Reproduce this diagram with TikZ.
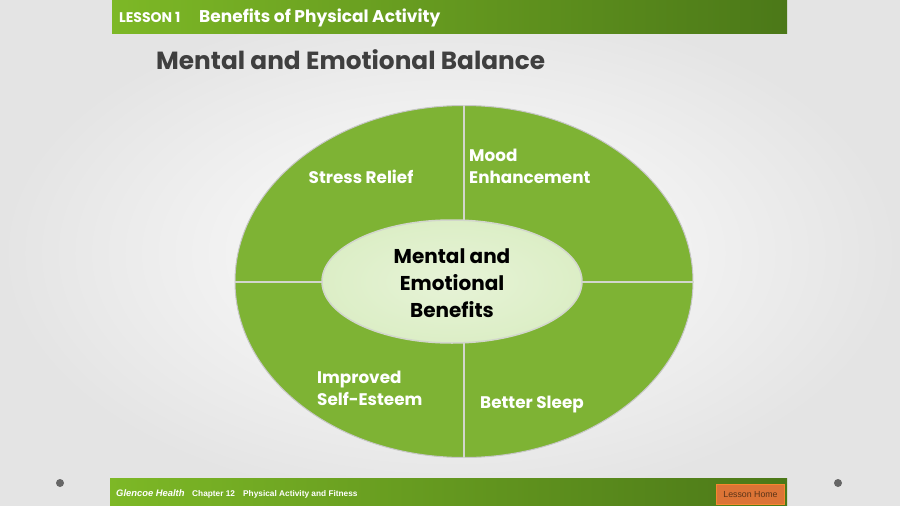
\documentclass[tikz,border=0pt]{standalone}
\usepackage{fontspec}
\setmainfont{Poppins}
\newfontfamily\footfont{Liberation Sans}
\usetikzlibrary{shapes.geometric, positioning}
\definecolor{bggrey}{HTML}{E4E4E4}
\definecolor{barleft}{HTML}{7DB826}
\definecolor{barright}{HTML}{4B7818}
\definecolor{leafgreen}{HTML}{7EB334}
\definecolor{palegreen}{HTML}{DCEEC6}
\definecolor{divline}{HTML}{D2D6CC}
\definecolor{titlegrey}{HTML}{3F3F3F}
\definecolor{btnorange}{HTML}{DC7436}
\definecolor{btnedge}{HTML}{F7872E}
\definecolor{btntext}{HTML}{5B3418}
\tikzset{
	bar/.style={shape=rectangle, inner sep=0pt, left color=barleft, right color=barright},
	quarter/.style={text=white, font=\bfseries\fontsize{16.8}{22}\selectfont, align=left, inner sep=0pt},
	foottext/.style={anchor=base west, text=white, inner sep=0pt, font=\footfont\bfseries\fontsize{8.3}{10}\selectfont},
	dot/.style={shape=circle, fill=black!60, inner sep=0pt, minimum size=8pt}
}

\begin{document}
\begin{tikzpicture}[x=1pt, y=-1pt]
	% Background, bars, ellipses and labels:
	\useasboundingbox (0,0) rectangle (900,506);
	\shade[inner color=white, outer color=bggrey] (0,0) rectangle (900,506);
	\node[bar, minimum width=675pt, minimum height=33pt] (header) at (449.5,16.5){};
	\node[anchor=base west, text=white, inner sep=0pt, font=\bfseries\fontsize{14}{16}\selectfont] (lesson) at (119,23){LESSON 1};
	\node[anchor=base west, text=white, inner sep=0pt, font=\bfseries\fontsize{17}{20}\selectfont] (topic) at (199,23){Benefits of Physical Activity};
	\node[anchor=base west, text=titlegrey, inner sep=0pt, font=\bfseries\fontsize{24.8}{30}\selectfont] (title) at (156,69){Mental and Emotional Balance};
	\node[shape=ellipse, draw=black!22, line width=1pt, fill=leafgreen, minimum width=458pt, minimum height=352pt, inner sep=0pt] (outer) at (464,281.5){};
	\draw[divline, line width=2pt] (outer.north) -- (outer.south);
	\draw[divline, line width=2pt] (outer.west) -- (outer.east);
	\node[shape=ellipse, draw=divline, line width=1.5pt, inner color=palegreen!70!white, outer color=palegreen, minimum width=260pt, minimum height=123pt, inner sep=0pt] (inner) at (452,281.5){};
	\node[align=center, inner sep=0pt, font=\bfseries\fontsize{20}{27}\selectfont] (centre) at (452,283){Mental and\\Emotional\\Benefits};
	\node[quarter, anchor=base] (stress) at (361,183){Stress Relief};
	\node[quarter, anchor=north west] (mood) at (469,149){Mood\\Enhancement};
	\node[quarter, anchor=north west] (esteem) at (317,371){Improved\\Self-Esteem};
	\node[quarter, anchor=base west] (sleep) at (480,408){Better Sleep};
	\node[bar, minimum width=677pt, minimum height=28pt] (footer) at (448.5,492){};
	\node[foottext, font=\footfont\bfseries\itshape\fontsize{9.4}{10}\selectfont] (brand) at (116,496){Glencoe Health};
	\node[foottext] (chapter) at (192,496){Chapter 12};
	\node[foottext] (chaptitle) at (243,496){Physical Activity and Fitness};
	\node[shape=rectangle, draw=btnedge, line width=1.5pt, fill=btnorange, minimum width=68pt, minimum height=20pt, inner sep=0pt, text=btntext, font=\footfont\fontsize{8.8}{10}\selectfont] (home) at (750.5,494.5){Lesson Home};
	\node[dot] (dotleft) at (60,483){};
	\node[dot] (dotright) at (838,483){};
\end{tikzpicture}
\end{document}
